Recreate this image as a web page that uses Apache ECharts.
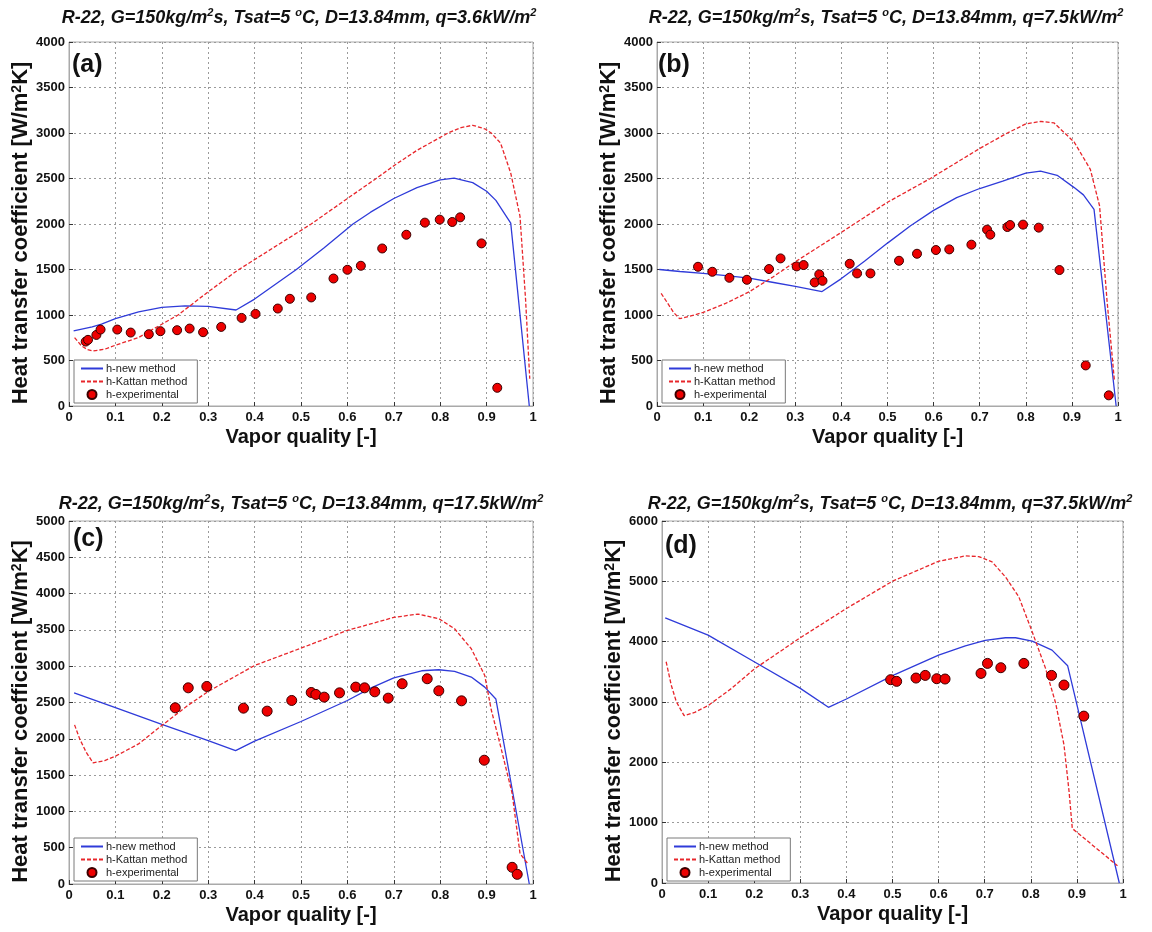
<!DOCTYPE html>
<html>
<head>
<meta charset="utf-8">
<title>R-22 flow boiling heat transfer coefficient</title>
<script src="https://cdn.jsdelivr.net/npm/echarts@6/dist/echarts.min.js"></script>
<style>
  html, body { margin: 0; padding: 0; background: #fff; }
  #chart { width: 1152px; height: 932px; }
</style>
</head>
<body>
<div id="chart"></div>
<script>
// values, [vapor quality, h in W/m2K]

// (a) q = 3.6 kW/m2
const newA = [[0.01,825],[0.05,870],[0.07,900],[0.1,960],[0.15,1035],[0.2,1083],[0.25,1100],[0.3,1094],[0.36,1055],[0.4,1175],[0.49,1500],[0.55,1740],[0.612,2000],[0.65,2130],[0.7,2280],[0.75,2400],[0.8,2485],[0.83,2503],[0.87,2455],[0.9,2360],[0.92,2260],[0.952,2010],[0.992,0]]
const katA = [[0.012,752],[0.027,660],[0.04,620],[0.052,605],[0.077,624],[0.1,668],[0.15,752],[0.2,899],[0.235,1000],[0.3,1255],[0.363,1490],[0.45,1770],[0.522,2000],[0.6,2280],[0.662,2500],[0.7,2640],[0.75,2810],[0.817,3000],[0.845,3060],[0.87,3085],[0.896,3046],[0.91,3000],[0.93,2890],[0.952,2560],[0.972,2085],[0.984,1170],[0.993,300]]
const expA = [[0.036,708],[0.041,727],[0.059,781],[0.068,840],[0.104,840],[0.133,807],[0.172,789],[0.197,822],[0.233,833],[0.26,851],[0.289,811],[0.328,869],[0.372,968],[0.402,1012],[0.45,1071],[0.476,1178],[0.522,1193],[0.57,1401],[0.6,1497],[0.629,1541],[0.675,1731],[0.727,1882],[0.767,2015],[0.799,2048],[0.826,2022],[0.843,2073],[0.889,1787],[0.923,200]]

// (b) q = 7.5 kW/m2
const newB = [[0.005,1500],[0.05,1478],[0.1,1457],[0.15,1432],[0.2,1406],[0.25,1360],[0.3,1314],[0.358,1258],[0.4,1400],[0.45,1590],[0.5,1790],[0.55,1980],[0.6,2150],[0.65,2290],[0.7,2390],[0.75,2470],[0.8,2560],[0.832,2580],[0.868,2535],[0.905,2400],[0.925,2320],[0.948,2160],[0.996,0]]
const katB = [[0.009,1237],[0.022,1138],[0.036,1028],[0.049,960],[0.08,998],[0.1,1028],[0.15,1130],[0.2,1255],[0.25,1413],[0.3,1585],[0.4,1908],[0.5,2239],[0.593,2500],[0.7,2830],[0.76,3000],[0.8,3100],[0.832,3127],[0.861,3112],[0.905,2900],[0.94,2600],[0.96,2200],[0.976,1170],[0.992,290]]
const expB = [[0.089,1530],[0.12,1475],[0.157,1409],[0.195,1387],[0.243,1505],[0.268,1622],[0.303,1534],[0.318,1549],[0.342,1358],[0.352,1446],[0.359,1376],[0.418,1563],[0.434,1457],[0.463,1457],[0.525,1596],[0.564,1673],[0.605,1714],[0.634,1721],[0.682,1773],[0.716,1938],[0.723,1883],[0.76,1967],[0.766,1989],[0.794,1993],[0.828,1960],[0.873,1494],[0.93,446],[0.98,117]]

// (c) q = 17.5 kW/m2
const newC = [[0.011,2633],[0.1,2430],[0.2,2200],[0.3,1975],[0.359,1838],[0.4,1967],[0.5,2238],[0.6,2528],[0.65,2698],[0.7,2840],[0.76,2937],[0.797,2951],[0.831,2928],[0.867,2850],[0.896,2712],[0.92,2548],[0.992,0]]
const katC = [[0.012,2192],[0.023,1999],[0.037,1815],[0.052,1668],[0.077,1700],[0.1,1760],[0.15,1930],[0.2,2183],[0.256,2459],[0.3,2652],[0.4,3010],[0.5,3249],[0.6,3493],[0.7,3672],[0.752,3718],[0.797,3654],[0.831,3516],[0.867,3240],[0.896,2873],[0.91,2400],[0.93,1900],[0.955,1250],[0.972,420],[0.99,270]]
const expC = [[0.229,2427],[0.257,2702],[0.297,2721],[0.376,2422],[0.427,2381],[0.48,2528],[0.522,2638],[0.532,2611],[0.55,2574],[0.583,2633],[0.618,2712],[0.637,2702],[0.659,2647],[0.688,2560],[0.718,2758],[0.772,2827],[0.797,2661],[0.846,2523],[0.895,1705],[0.955,230],[0.966,133]]

// (d) q = 37.5 kW/m2
const newD = [[0.007,4395],[0.1,4109],[0.2,3667],[0.3,3226],[0.361,2912],[0.4,3050],[0.5,3436],[0.6,3778],[0.658,3932],[0.701,4020],[0.745,4065],[0.767,4065],[0.803,4009],[0.846,3860],[0.88,3600],[0.992,0]]
const katD = [[0.009,3667],[0.02,3281],[0.031,3006],[0.048,2774],[0.071,2829],[0.1,2940],[0.151,3226],[0.2,3546],[0.3,4065],[0.4,4550],[0.5,5002],[0.6,5333],[0.658,5421],[0.687,5410],[0.716,5322],[0.745,5074],[0.774,4743],[0.803,4164],[0.832,3557],[0.854,2978],[0.872,2289],[0.883,1517],[0.89,904],[0.988,287]]
const expD = [[0.496,3370],[0.509,3342],[0.551,3397],[0.571,3441],[0.596,3386],[0.614,3381],[0.692,3474],[0.706,3640],[0.735,3568],[0.785,3640],[0.845,3441],[0.872,3281],[0.915,2766]]

const heatFlux = ['3.6', '7.5', '17.5', '37.5']
const panelTags = ['(a)', '(b)', '(c)', '(d)']
const yMax = [4000, 4000, 5000, 6000]
const yStep = [500, 500, 500, 1000]

const seriesNames = ['h-new method', 'h-Kattan method', 'h-experimental']

const font = "'Liberation Sans', Arial, sans-serif"
const BLUE = '#2f3bd9'
const RED = '#e8262b'

const panels = [
  { grid: { left: 69, top: 42, width: 464, height: 364 }, title: [299, 7], tag: [72, 53], legend: [74, 360], lines: [newA, katA, expA], dot: 9 },
  { grid: { left: 657, top: 42, width: 461, height: 364 }, title: [886, 7], tag: [658, 53], legend: [662, 360], lines: [newB, katB, expB], dot: 9 },
  { grid: { left: 69, top: 521, width: 464, height: 363 }, title: [301, 493], tag: [73, 527], legend: [74, 838], lines: [newC, katC, expC], dot: 10 },
  { grid: { left: 662, top: 521, width: 461, height: 362 }, title: [890, 493], tag: [665, 534], legend: [667, 838], lines: [newD, katD, expD], dot: 10 }
]

const supRich = {
  t: { fontSize: 18, fontStyle: 'italic', fontFamily: font, color: '#111', lineHeight: 22 },
  s: { fontSize: 11, fontStyle: 'italic', fontFamily: font, color: '#111', verticalAlign: 'top', lineHeight: 22 }
}

const chart = echarts.init(document.getElementById('chart'), null, { renderer: 'canvas' })

const option = {
  animation: false,
  backgroundColor: '#fff',
  title: [],
  legend: [],
  grid: panels.map(p => ({ ...p.grid, show: true, borderColor: '#a9a9a9', borderWidth: 1, containLabel: false })),
  xAxis: [],
  yAxis: [],
  series: []
}

panels.forEach((p, i) => {
  option.title.push({
    text: `{t|R-22, G=150kg/m}{s|2}{t|s, Tsat=5 }{s|o}{t|C, D=13.84mm, q=${heatFlux[i]}kW/m}{s|2}`,
    left: p.title[0], top: p.title[1], textAlign: 'center', padding: 0,
    textStyle: { rich: supRich }
  })
  option.title.push({
    text: panelTags[i], left: p.tag[0], top: p.tag[1], padding: 0,
    textStyle: { fontSize: 25, fontWeight: 'bold', fontFamily: font, color: '#111' }
  })

  option.legend.push({
    data: [
      { name: seriesNames[0], itemStyle: { opacity: 0 } },
      { name: seriesNames[1], itemStyle: { opacity: 0 } },
      { name: seriesNames[2], icon: 'circle' }
    ],
    orient: 'vertical', left: p.legend[0], top: p.legend[1],
    itemWidth: 22, itemHeight: 9, itemGap: 2,
    padding: [3, 10, 3, 6],
    borderColor: '#7a7a7a', borderWidth: 1, backgroundColor: '#fff',
    selectedMode: false,
    textStyle: { fontSize: 11, fontFamily: font, color: '#222', padding: [0, 0, 0, -2] }
  })

  option.xAxis.push({
    gridIndex: i, type: 'value', min: 0, max: 1, interval: 0.1,
    name: 'Vapor quality [-]', nameLocation: 'middle', nameGap: 21,
    nameTextStyle: { fontSize: 20, fontWeight: 'bold', fontFamily: font, color: '#111' },
    axisLine: { show: true, lineStyle: { color: '#a9a9a9' } },
    axisTick: { show: true, inside: true, length: 4, lineStyle: { color: '#333' } },
    axisLabel: { fontSize: 13, fontWeight: 'bold', fontFamily: font, color: '#111', margin: 5 },
    splitLine: { show: true, lineStyle: { color: '#9a9a9a', type: [2, 3], width: 1 } }
  })

  option.yAxis.push({
    gridIndex: i, type: 'value', min: 0, max: yMax[i], interval: yStep[i],
    name: 'Heat transfer coefficient [W/m{s|2}K]', nameLocation: 'middle', nameGap: 29,
    nameTextStyle: {
      fontSize: 22, fontWeight: 'bold', fontFamily: font, color: '#111',
      padding: [0, 18, 0, 0],
      rich: { s: { fontSize: 14, fontWeight: 'bold', fontFamily: font, color: '#111', verticalAlign: 'top' } }
    },
    axisLine: { show: true, lineStyle: { color: '#a9a9a9' } },
    axisTick: { show: true, inside: true, length: 4, lineStyle: { color: '#333' } },
    axisLabel: {
      fontSize: 13, fontWeight: 'bold', fontFamily: font, color: '#111', margin: 4,
      formatter: v => String(v)
    },
    splitLine: { show: true, lineStyle: { color: '#9a9a9a', type: [2, 3], width: 1 } }
  })

  const [newM, kattan, exp] = p.lines
  option.series.push({
    name: seriesNames[0], type: 'line', xAxisIndex: i, yAxisIndex: i,
    data: newM, symbol: 'none', color: BLUE,
    lineStyle: { color: BLUE, width: 1.3 }, z: 2
  })
  option.series.push({
    name: seriesNames[1], type: 'line', xAxisIndex: i, yAxisIndex: i,
    data: kattan, symbol: 'none', color: RED,
    lineStyle: { color: RED, width: 1.3, type: [4, 2] }, z: 2
  })
  option.series.push({
    name: seriesNames[2], type: 'scatter', xAxisIndex: i, yAxisIndex: i,
    data: exp, symbol: 'circle', symbolSize: p.dot, color: '#ee0000',
    itemStyle: { color: '#ee0000', borderColor: '#3a0000', borderWidth: 1, opacity: 1 }, z: 3
  })
})

chart.setOption(option)
</script>
</body>
</html>
